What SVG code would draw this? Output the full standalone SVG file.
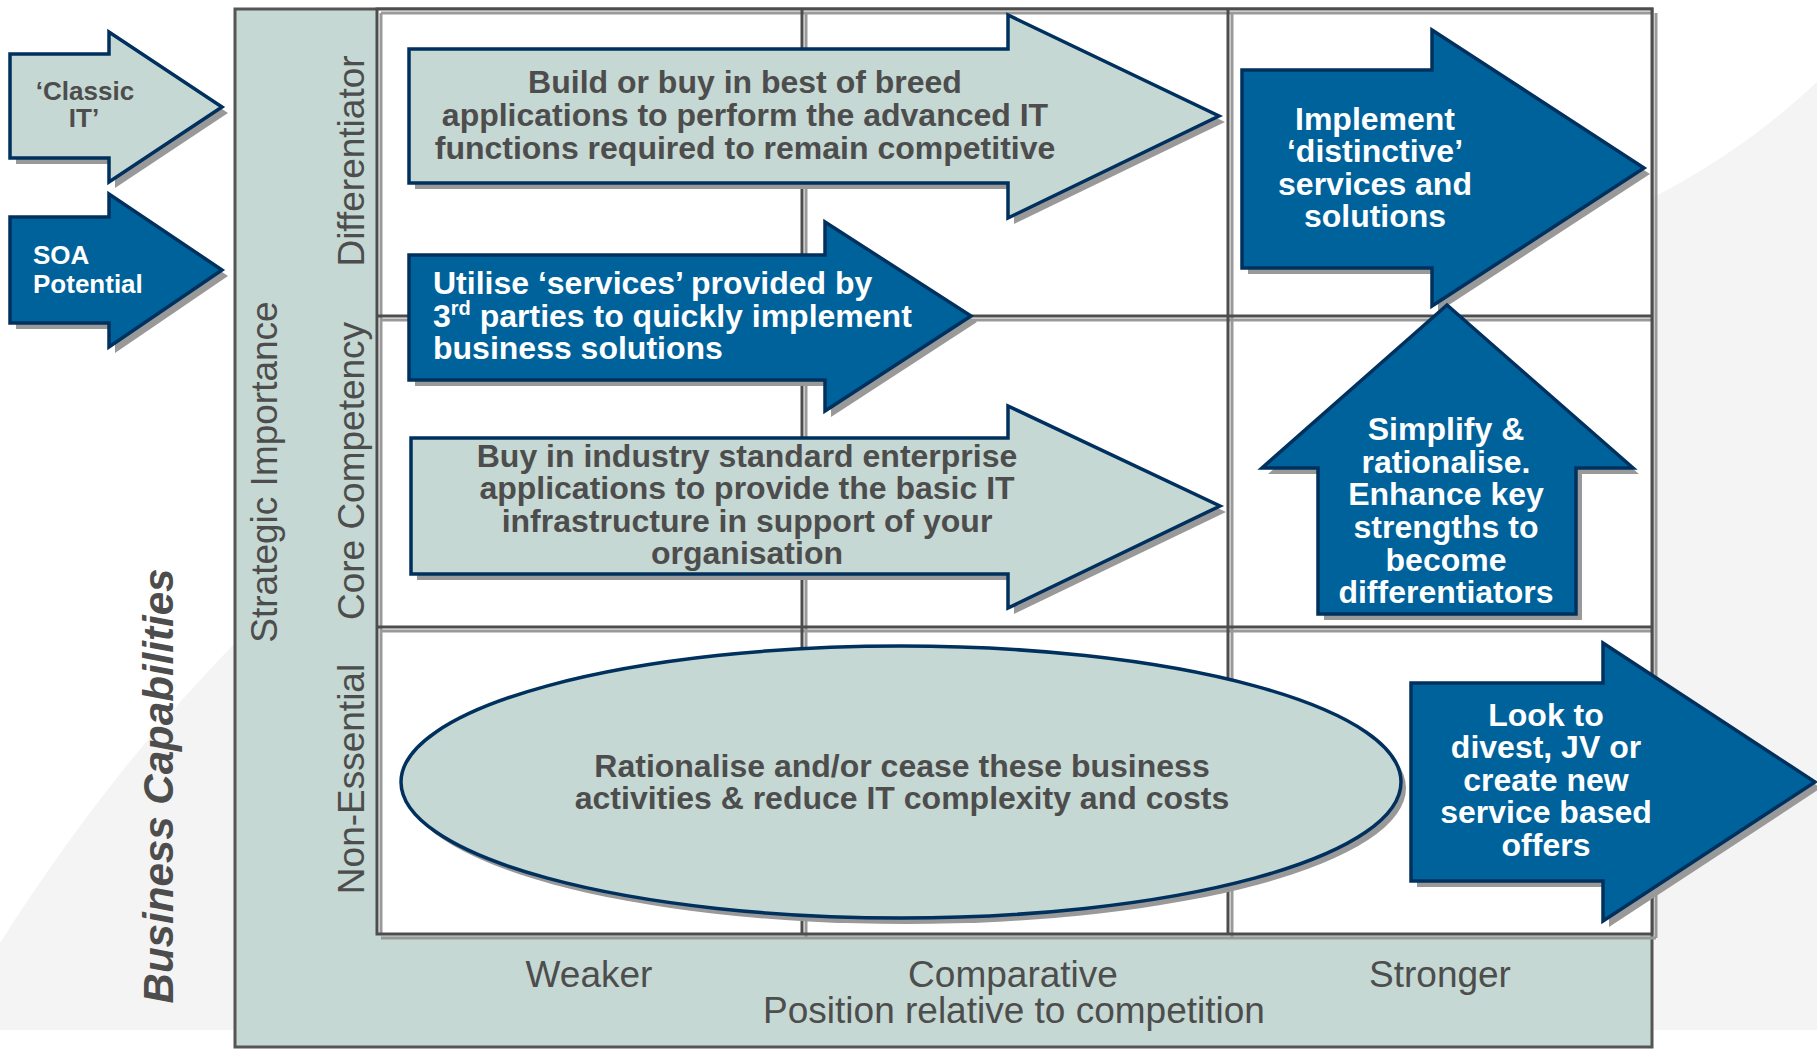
<svg xmlns="http://www.w3.org/2000/svg" width="1817" height="1049" viewBox="0 0 1817 1049">
<style>
.bg{fill:#f4f4f4}
.panel{fill:#c5d8d3;stroke:#555;stroke-width:3}
.gl{stroke:#4d4d4d;stroke-width:3;fill:none}
.gs{stroke:#999;stroke-width:3;fill:none}
.sh{fill:#999}
.la{fill:#c5d8d3;stroke:#00305e;stroke-width:3.5;stroke-linejoin:miter}
.ba{fill:#00629b;stroke:#00305e;stroke-width:3.5;stroke-linejoin:miter}
.lab{font-family:"Liberation Sans",Arial,sans-serif;font-size:37px;fill:#4d4d4d}
.bt{font-family:"Liberation Sans",Arial,sans-serif;font-size:32px;font-weight:bold}
.dk{fill:#4d4d4d}
.wh{fill:#fff}
.sm{font-family:"Liberation Sans",Arial,sans-serif;font-size:26px;font-weight:bold}
.mid{text-anchor:middle}
</style>
<rect width="1817" height="1049" fill="#fff"/>
<g id="background">
<path class="bg" d="M0,943 Q110,770 240,638 L240,1030 L0,1030 Z"/>
<path class="bg" d="M1652,198 Q1745,150 1817,82 L1817,1030 L1652,1030 Z"/>
</g>
<g id="panel">
<rect class="panel" x="235" y="9" width="1417" height="1038"/>
<rect x="377" y="9" width="1275" height="925" fill="#fff"/>
</g>
<g id="grid">
<line class="gs" x1="381" y1="13" x2="1652" y2="13"/>
<line class="gs" x1="381" y1="13" x2="381" y2="934"/>
<line class="gs" x1="806" y1="13" x2="806" y2="938"/>
<line class="gs" x1="1232" y1="13" x2="1232" y2="938"/>
<line class="gs" x1="381" y1="320" x2="1652" y2="320"/>
<line class="gs" x1="381" y1="631" x2="1652" y2="631"/>
<line class="gs" x1="1656" y1="13" x2="1656" y2="938"/>
<line class="gs" x1="381" y1="938" x2="1656" y2="938"/>
<line class="gl" x1="802" y1="9" x2="802" y2="934"/>
<line class="gl" x1="1228" y1="9" x2="1228" y2="934"/>
<line class="gl" x1="377" y1="316" x2="1652" y2="316"/>
<line class="gl" x1="377" y1="627" x2="1652" y2="627"/>
<rect class="gl" x="377" y="9" width="1275" height="925"/>
</g>
<g id="axis-labels">
<text class="lab mid" transform="translate(364,161) rotate(-90)">Differentiator</text>
<text class="lab mid" transform="translate(364,471) rotate(-90)">Core Competency</text>
<text class="lab mid" transform="translate(364,779) rotate(-90)">Non-Essential</text>
<text class="lab mid" transform="translate(277,472) rotate(-90)">Strategic Importance</text>
<text class="mid" transform="translate(173,786) rotate(-90)" font-family="Liberation Sans, Arial, sans-serif" font-size="42" font-weight="bold" font-style="italic" fill="#4d4d4d" textLength="435" lengthAdjust="spacingAndGlyphs">Business Capabilities</text>
<text class="lab mid" x="589" y="987">Weaker</text>
<text class="lab mid" x="1013" y="987">Comparative</text>
<text class="lab mid" x="1440" y="987">Stronger</text>
<text class="lab mid" x="1014" y="1023">Position relative to competition</text>
</g>
<g id="legend-classic">
<polygon class="sh" transform="translate(6,6)" points="10,54 109,54 109,32 222,107 109,182 109,158 10,158"/>
<polygon class="la" points="10,54 109,54 109,32 222,107 109,182 109,158 10,158"/>
<text class="sm dk mid" x="85" y="100">‘Classic</text>
<text class="sm dk mid" x="84" y="127">IT’</text>
</g>
<g id="legend-soa">
<polygon class="sh" transform="translate(6,6)" points="10,217 109,217 109,194 222,270 109,347 109,323 10,323"/>
<polygon class="ba" points="10,217 109,217 109,194 222,270 109,347 109,323 10,323"/>
<text class="sm wh" x="33" y="264">SOA</text>
<text class="sm wh" x="33" y="293">Potential</text>
</g>
<g id="build">
<polygon class="sh" transform="translate(6,6)" points="409,49 1008,49 1008,15 1219,116 1008,218 1008,183 409,183"/>
<polygon class="la" points="409,49 1008,49 1008,15 1219,116 1008,218 1008,183 409,183"/>
<text class="bt dk mid" x="745" y="93">Build or buy in best of breed</text>
<text class="bt dk mid" x="745" y="126">applications to perform the advanced IT</text>
<text class="bt dk mid" x="745" y="159">functions required to remain competitive</text>
</g>
<g id="utilise">
<polygon class="sh" transform="translate(6,6)" points="409,255 825,255 825,222 971,316 825,411 825,380 409,380"/>
<polygon class="ba" points="409,255 825,255 825,222 971,316 825,411 825,380 409,380"/>
<text class="bt wh" x="433" y="294">Utilise ‘services’ provided by</text>
<text class="bt wh" x="433" y="327">3<tspan font-size="20" dy="-12">rd</tspan><tspan dy="12"> parties to quickly implement</tspan></text>
<text class="bt wh" x="433" y="359">business solutions</text>
</g>
<g id="buy">
<polygon class="sh" transform="translate(6,6)" points="411,438 1008,438 1008,406 1220,506 1008,608 1008,574 411,574"/>
<polygon class="la" points="411,438 1008,438 1008,406 1220,506 1008,608 1008,574 411,574"/>
<text class="bt dk mid" x="747" y="467">Buy in industry standard enterprise</text>
<text class="bt dk mid" x="747" y="499">applications to provide the basic IT</text>
<text class="bt dk mid" x="747" y="532">infrastructure in support of your</text>
<text class="bt dk mid" x="747" y="564">organisation</text>
</g>
<g id="implement">
<polygon class="sh" transform="translate(6,6)" points="1242,70 1432,70 1432,30 1644,168 1432,306 1432,268 1242,268"/>
<polygon class="ba" points="1242,70 1432,70 1432,30 1644,168 1432,306 1432,268 1242,268"/>
<text class="bt wh mid" x="1375" y="130">Implement</text>
<text class="bt wh mid" x="1375" y="162">‘distinctive’</text>
<text class="bt wh mid" x="1375" y="195">services and</text>
<text class="bt wh mid" x="1375" y="227">solutions</text>
</g>
<g id="simplify">
<polygon class="sh" transform="translate(6,6)" points="1447,305 1633,468 1576,468 1576,614 1318,614 1318,468 1262,468"/>
<polygon class="ba" points="1447,305 1633,468 1576,468 1576,614 1318,614 1318,468 1262,468"/>
<text class="bt wh mid" x="1446" y="440">Simplify &amp;</text>
<text class="bt wh mid" x="1446" y="473">rationalise.</text>
<text class="bt wh mid" x="1446" y="505">Enhance key</text>
<text class="bt wh mid" x="1446" y="538">strengths to</text>
<text class="bt wh mid" x="1446" y="571">become</text>
<text class="bt wh mid" x="1446" y="603">differentiators</text>
</g>
<g id="rationalise">
<ellipse class="sh" cx="906" cy="788" rx="500" ry="136"/>
<ellipse class="la" cx="901" cy="782" rx="500" ry="136"/>
<text class="bt dk mid" x="902" y="777">Rationalise and/or cease these business</text>
<text class="bt dk mid" x="902" y="809">activities &amp; reduce IT complexity and costs</text>
</g>
<g id="divest">
<polygon class="sh" transform="translate(6,6)" points="1411,683 1603,683 1603,643 1815,782 1603,921 1603,881 1411,881"/>
<polygon class="ba" points="1411,683 1603,683 1603,643 1815,782 1603,921 1603,881 1411,881"/>
<text class="bt wh mid" x="1546" y="726">Look to</text>
<text class="bt wh mid" x="1546" y="758">divest, JV or</text>
<text class="bt wh mid" x="1546" y="791">create new</text>
<text class="bt wh mid" x="1546" y="823">service based</text>
<text class="bt wh mid" x="1546" y="856">offers</text>
</g>
<g id="connectors"></g>
</svg>
